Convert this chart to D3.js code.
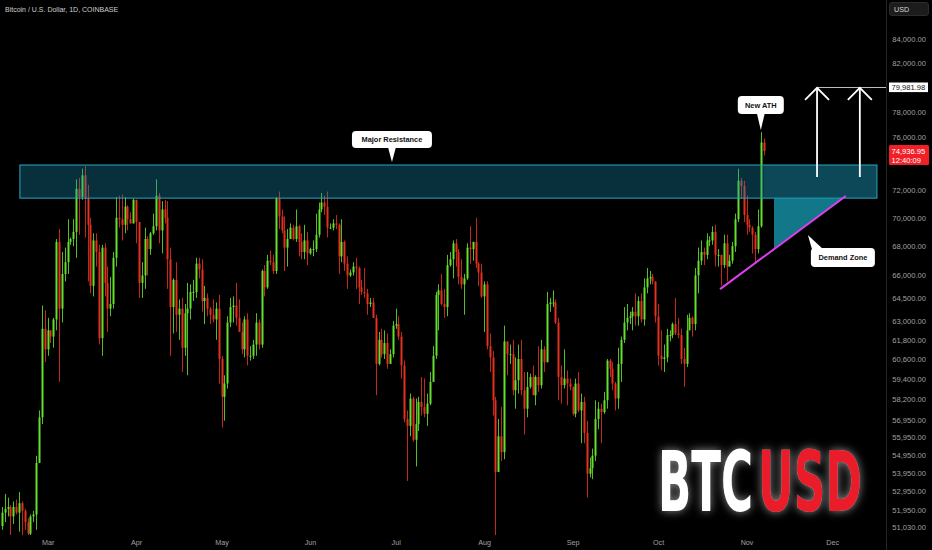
<!DOCTYPE html>
<html><head><meta charset="utf-8">
<script src="https://cdn.jsdelivr.net/npm/d3@7"></script>
<style>
html,body{margin:0;padding:0;background:#000;}
svg{display:block;}
</style></head>
<body>
<svg id="chart" width="932" height="550"></svg>
<script>
// ---------- DATA (BTC / USD daily, prices in thousands of USD) ----------
const firstDay = "2024-02-14";
const openK = [
 51.1,51.8,52.0,52.1,51.6,52.1,51.8,52.3,51.9,51.3,50.7,51.6,51.7,54.5,57.1,62.5,
 61.2,62.4,62.0,63.1,68.3,63.8,66.1,66.9,68.3,68.5,69.0,72.1,71.5,73.1,71.4,69.5,65.3,68.4,67.6,61.9,67.9,65.5,63.8,64.1,67.2,70.0,69.9,69.5,70.8,69.9,69.6,
 71.3,69.7,65.5,66.0,68.5,67.8,68.9,69.4,71.6,69.1,70.6,70.0,67.1,63.9,65.7,63.4,63.8,61.3,63.5,63.8,64.9,64.9,66.8,66.4,64.3,64.5,63.8,63.4,63.1,63.8,
 60.6,58.3,59.1,62.9,63.9,64.0,63.2,62.3,61.2,63.1,60.8,60.8,61.5,62.9,61.5,66.3,65.2,67.0,66.9,66.3,71.4,70.1,69.1,67.9,68.5,69.3,68.5,69.4,68.3,67.6,68.4,
 67.5,67.8,67.8,68.8,70.6,71.1,70.8,69.3,69.3,69.6,69.5,67.3,68.3,66.8,66.0,66.2,66.6,66.5,65.2,64.9,64.8,64.1,64.2,63.2,60.3,61.8,60.9,61.6,60.3,60.9,
 62.7,62.8,62.0,60.2,57.0,56.6,58.2,55.8,56.7,58.0,57.7,57.3,57.9,59.2,60.8,64.7,65.0,64.1,63.9,66.7,67.1,68.2,67.6,65.9,65.4,65.8,67.9,67.8,68.3,66.8,66.2,
 64.6,65.4,61.4,60.7,58.1,54.0,56.0,55.1,61.7,60.9,60.9,58.7,59.3,60.6,58.7,57.6,58.9,59.5,58.4,59.5,59.0,61.2,60.4,64.1,64.2,64.2,62.9,59.5,59.0,59.4,59.1,
 58.9,57.3,59.1,57.5,58.0,56.2,53.9,54.2,54.9,57.0,57.6,57.4,58.1,60.5,60.0,59.1,58.2,60.3,61.8,62.9,63.2,63.3,63.6,63.3,64.3,63.1,65.2,65.8,65.9,65.6,
 63.3,60.8,60.6,60.7,62.1,62.1,62.8,62.2,62.1,60.6,60.3,62.4,63.2,62.8,66.0,67.0,67.6,67.4,68.4,68.4,69.0,67.4,67.4,66.7,68.2,66.6,67.0,68.0,69.9,72.7,72.3,
 70.2,69.5,69.3,68.8,67.8,69.4,75.6
];
const highK = [
 52.1,52.8,52.6,52.2,52.4,52.5,52.9,52.4,52.0,51.5,51.7,51.9,54.9,57.5,64.0,63.7,
 63.2,62.4,63.2,68.5,69.2,67.6,67.9,69.9,68.6,69.9,72.8,72.9,73.6,73.8,72.4,70.0,68.9,68.9,68.1,68.1,68.2,66.6,65.9,67.6,71.5,71.6,71.7,71.5,70.9,70.4,71.4,
 71.3,69.7,66.9,69.3,68.7,69.0,70.3,72.8,71.8,71.2,71.3,71.2,67.9,65.8,66.9,64.4,64.5,64.1,65.5,65.4,65.7,67.2,67.2,67.1,65.3,64.8,63.9,64.4,64.2,64.7,
 60.8,59.6,63.3,64.5,64.6,65.5,64.4,62.9,63.3,63.5,61.4,61.8,63.5,63.1,66.4,66.7,67.4,67.7,67.4,71.5,71.9,70.6,70.1,69.2,69.6,69.5,70.6,69.5,68.9,69.5,69.0,
 67.9,68.4,70.3,71.1,71.8,71.6,71.9,69.6,69.9,70.2,69.6,69.9,68.4,67.3,66.4,66.9,67.2,66.6,65.7,66.5,65.1,64.5,64.5,63.4,62.3,62.5,62.4,62.2,61.2,63.0,
 63.8,63.3,62.3,60.5,57.5,58.5,58.3,58.2,58.3,59.5,59.4,58.5,59.8,61.4,64.9,65.4,66.1,65.1,67.4,67.6,68.4,68.5,67.8,67.1,66.1,68.2,69.4,68.3,70.0,66.9,66.8,
 65.6,65.6,62.2,61.1,58.3,57.0,57.7,62.7,61.7,61.5,61.8,60.7,61.5,61.8,59.8,59.8,59.7,60.2,59.6,61.4,61.8,61.4,64.9,64.5,65.0,64.4,63.2,60.2,61.2,59.9,59.4,
 58.9,59.4,59.8,58.5,58.3,56.9,54.8,55.3,58.1,58.0,57.9,58.6,60.6,60.6,60.4,59.2,61.3,62.0,63.9,64.1,63.6,63.9,64.8,64.6,64.8,65.8,66.5,66.3,66.1,65.6,
 64.1,62.4,61.5,62.5,62.4,62.9,64.5,63.2,62.5,61.3,63.4,63.5,63.3,66.5,67.9,68.4,67.9,68.9,68.7,69.4,69.5,67.8,67.4,68.8,68.8,67.4,68.3,70.3,73.6,72.9,72.7,
 71.6,69.9,69.4,69.0,70.6,76.4,75.9
];
const lowK = [
 50.9,51.3,51.6,50.6,51.2,51.7,50.8,50.6,50.9,50.5,50.6,51.3,50.9,54.5,56.7,60.4,
 60.8,61.6,61.3,62.4,59.2,62.9,65.6,66.1,68.1,68.0,67.2,68.8,71.3,68.6,65.6,64.8,64.6,66.6,61.5,60.8,64.6,62.3,63.3,63.8,66.6,69.3,68.4,68.9,69.1,69.6,69.6,
 68.2,64.5,64.5,65.1,66.0,67.4,68.8,69.1,68.2,67.5,69.6,65.1,60.8,62.2,62.3,61.8,59.8,60.8,59.6,63.1,64.3,64.5,65.8,63.6,62.8,63.3,62.8,62.9,61.8,59.1,
 56.5,56.9,58.8,62.6,62.9,62.7,62.3,60.9,60.7,60.2,60.5,60.6,60.8,61.2,61.3,64.6,65.1,66.7,66.1,66.1,69.2,68.9,66.3,66.6,68.5,68.4,68.3,67.3,67.1,67.1,66.7,
 67.4,67.3,67.6,68.6,70.4,70.2,68.6,69.2,69.1,69.2,66.1,66.9,66.3,65.1,65.9,66.0,65.1,64.1,64.7,64.5,63.4,63.9,63.2,58.4,60.2,60.7,60.6,60.0,60.3,60.7,
 62.5,61.8,59.4,56.8,53.5,56.0,55.7,54.3,56.3,57.2,57.1,56.6,57.8,59.2,60.6,62.4,64.0,63.2,63.3,66.6,65.8,66.6,65.4,65.1,63.4,65.7,66.8,67.0,66.5,65.3,64.5,
 62.3,61.2,59.8,57.2,49.1,54.0,54.6,54.7,59.6,60.3,58.4,57.6,58.5,58.4,56.1,57.1,58.8,58.4,57.8,58.6,58.8,59.8,60.4,63.6,63.9,62.8,58.1,57.9,58.8,57.8,58.7,
 57.2,57.1,57.4,55.6,55.6,52.6,53.7,53.6,54.6,56.4,55.6,57.3,57.6,59.5,58.7,57.5,57.6,59.2,61.6,62.4,62.8,62.4,62.7,62.7,62.9,62.7,64.8,65.4,65.4,62.9,
 60.2,59.9,59.8,60.4,61.7,61.9,62.1,61.9,60.3,58.9,60.1,62.4,62.0,62.4,64.8,66.7,66.7,67.1,68.0,68.1,66.6,66.6,65.3,66.5,65.6,66.6,66.8,67.6,69.7,71.4,69.7,
 68.8,69.0,67.5,66.8,67.5,69.3,74.6
];
const closeK = [
 51.8,52.0,52.1,51.6,52.1,51.8,52.3,51.9,51.3,50.7,51.6,51.7,54.5,57.1,62.5,61.2,
 62.4,62.0,63.1,68.3,63.8,66.1,66.9,68.3,68.5,69.0,72.1,71.5,73.1,71.4,69.5,65.3,68.4,67.6,61.9,67.9,65.5,63.8,64.1,67.2,70.0,69.9,69.5,70.8,69.9,69.6,71.3,
 69.7,65.5,66.0,68.5,67.8,68.9,69.4,71.6,69.1,70.6,70.0,67.1,63.9,65.7,63.4,63.8,61.3,63.5,63.8,64.9,64.9,66.8,66.4,64.3,64.5,63.8,63.4,63.1,63.8,60.6,
 58.3,59.1,62.9,63.9,64.0,63.2,62.3,61.2,63.1,60.8,60.8,61.5,62.9,61.5,66.3,65.2,67.0,66.9,66.3,71.4,70.1,69.1,67.9,68.5,69.3,68.5,69.4,68.3,67.6,68.4,67.5,
 67.8,67.8,68.8,70.6,71.1,70.8,69.3,69.3,69.6,69.5,67.3,68.3,66.8,66.0,66.2,66.6,66.5,65.2,64.9,64.8,64.1,64.2,63.2,60.3,61.8,60.9,61.6,60.3,60.9,62.7,
 62.8,62.0,60.2,57.0,56.6,58.2,55.8,56.7,58.0,57.7,57.3,57.9,59.2,60.8,64.7,65.0,64.1,63.9,66.7,67.1,68.2,67.6,65.9,65.4,65.8,67.9,67.8,68.3,66.8,66.2,64.6,
 65.4,61.4,60.7,58.1,54.0,56.0,55.1,61.7,60.9,60.9,58.7,59.3,60.6,58.7,57.6,58.9,59.5,58.4,59.5,59.0,61.2,60.4,64.1,64.2,64.2,62.9,59.5,59.0,59.4,59.1,58.9,
 57.3,59.1,57.5,58.0,56.2,53.9,54.2,54.9,57.0,57.6,57.4,58.1,60.5,60.0,59.1,58.2,60.3,61.8,62.9,63.2,63.3,63.6,63.3,64.3,63.1,65.2,65.8,65.9,65.6,63.3,
 60.8,60.6,60.7,62.1,62.1,62.8,62.2,62.1,60.6,60.3,62.4,63.2,62.8,66.0,67.0,67.6,67.4,68.4,68.4,69.0,67.4,67.4,66.7,68.2,66.6,67.0,68.0,69.9,72.7,72.3,70.2,
 69.5,69.3,68.8,67.8,69.4,75.6,74.93695
];
// visible price-scale labels (80,000 and 74,000 sit under the price tags)
const priceTicks = [84000,82000,78000,76000,72000,70000,68000,66000,64500,63000,61800,60600,59400,58200,56950,55950,54950,53950,52950,51950,51030];
const monthStarts = ["2024-03-01","2024-04-01","2024-05-01","2024-06-01","2024-07-01","2024-08-01","2024-09-01","2024-10-01","2024-11-01","2024-12-01"];
const monthLabels = ["Mar","Apr","May","Jun","Jul","Aug","Sep","Oct","Nov","Dec"];
const lastPrice = 74936.95;
const countdown = "12:40:09";
const targetPrice = 79981.98;
// annotation anchors (date, price)
const resistanceDates = ["2024-02-20T07:00Z","2024-12-16T17:00Z"];
const resistancePrices = [71420, 73880];
const brightZoneStart = "2024-11-07T00:00Z";
const demandZone = [["2024-11-10T15:00Z",71420],["2024-11-10T15:00Z",67850],["2024-12-04T20:00Z",71420]];
const trendLine = [["2024-10-22T17:00Z",65080],["2024-12-05T19:00Z",71576]];
const arrowDates = ["2024-11-25T17:00Z","2024-12-10T17:00Z"];
const arrowPrices = [72980, 79981.98];
const calloutText = ["Major Resistance","New ATH","Demand Zone"];
const calloutDates = ["2024-06-29T17:00Z","2024-11-06T00:00Z","2024-11-22T12:00Z"];
const calloutPrices = [74100, 76560, 68780];
const logoParts = ["BTC","USD"];

// ---------- CHART ----------
const svg = d3.select("#chart");
const plotW = 886, plotH = 535;
const DAY = 864e5, MAR1 = Date.UTC(2024,2,1);
const x = d3.scaleUtc().domain([new Date(MAR1 - 16.68*DAY), new Date(MAR1 + 293.88*DAY)]).range([0, plotW]);
const y = d3.scaleLog().domain([87440, 50630]).range([0, plotH]);
const FONT = "'Liberation Sans', Arial, 'DejaVu Sans', sans-serif";
const GREEN = "#62e02c", RED = "#e6301f";

svg.append("rect").attr("width",932).attr("height",550).attr("fill","#000");

const defs = svg.append("defs");
defs.append("clipPath").attr("id","plot").append("rect").attr("width",plotW).attr("height",plotH);
const glow = defs.append("filter").attr("id","glow").attr("filterUnits","userSpaceOnUse")
  .attr("x",600).attr("y",400).attr("width",300).attr("height",150);
glow.append("feGaussianBlur").attr("in","SourceAlpha").attr("stdDeviation",5).attr("result","b");
glow.append("feFlood").attr("flood-color","#ffffff").attr("flood-opacity",0.55).attr("result","f");
glow.append("feComposite").attr("in","f").attr("in2","b").attr("operator","in").attr("result","g");
const fm = glow.append("feMerge");
fm.append("feMergeNode").attr("in","g");
fm.append("feMergeNode").attr("in","SourceGraphic");

const candles = closeK.map((c,i)=>({
  date: d3.utcDay.offset(new Date(firstDay+"T00:00Z"), i),
  o: openK[i]*1000, h: highK[i]*1000, l: lowK[i]*1000, c: c*1000
}));

const plot = svg.append("g").attr("clip-path","url(#plot)");

// candles
const cg = plot.append("g");
cg.selectAll("line").data(candles).join("line")
  .attr("x1", d=>Math.round(x(d.date))+0.5).attr("x2", d=>Math.round(x(d.date))+0.5)
  .attr("y1", d=>y(d.h)).attr("y2", d=>y(d.l))
  .attr("stroke", d=>d.c>=d.o?GREEN:RED).attr("stroke-width",1).attr("opacity",0.85);
cg.selectAll("rect").data(candles).join("rect")
  .attr("x", d=>Math.round(x(d.date))-0.5).attr("width",2)
  .attr("y", d=>y(Math.max(d.o,d.c)))
  .attr("height", d=>Math.max(1, Math.abs(y(d.o)-y(d.c))))
  .attr("fill", d=>d.c>=d.o?GREEN:RED);

// resistance box (semi-transparent, over candles)
const rx0 = x(new Date(resistanceDates[0])), rx1 = x(new Date(resistanceDates[1]));
const ry0 = y(resistancePrices[1]), ry1 = y(resistancePrices[0]);
plot.append("rect").attr("x",rx0).attr("y",ry0).attr("width",rx1-rx0).attr("height",ry1-ry0)
  .attr("fill","rgba(24,140,175,0.34)");
const bx0 = x(new Date(brightZoneStart));
plot.append("rect").attr("x",bx0).attr("y",ry0).attr("width",rx1-bx0).attr("height",ry1-ry0)
  .attr("fill","rgba(30,160,195,0.22)");
plot.append("rect").attr("x",rx0).attr("y",ry0).attr("width",rx1-rx0).attr("height",ry1-ry0)
  .attr("fill","none").attr("stroke","#2aa7bf").attr("stroke-width",1);

// demand zone
plot.append("path")
  .attr("d", d3.line()(demandZone.map(p=>[x(new Date(p[0])), y(p[1])])) + "Z")
  .attr("fill","rgba(25,165,190,0.72)");

// trend line
plot.append("line")
  .attr("x1", x(new Date(trendLine[0][0]))).attr("y1", y(trendLine[0][1]))
  .attr("x2", x(new Date(trendLine[1][0]))).attr("y2", y(trendLine[1][1]))
  .attr("stroke","#dc3ff0").attr("stroke-width",2);

// target line + arrows
const ty = y(targetPrice);
plot.append("line").attr("x1", x(new Date(arrowDates[0]))).attr("x2", plotW)
  .attr("y1", Math.round(ty)+0.5).attr("y2", Math.round(ty)+0.5).attr("stroke","#bdbdbd").attr("stroke-width",1);
arrowDates.forEach(dstr=>{
  const ax = x(new Date(dstr)), yb = y(arrowPrices[0]), yt = y(arrowPrices[1]);
  plot.append("line").attr("x1",ax).attr("x2",ax).attr("y1",yb).attr("y2",yt+1)
    .attr("stroke","#fff").attr("stroke-width",1.8);
  plot.append("path").attr("d",`M${ax-12},${yt+12.5}L${ax},${yt+0.5}L${ax+12},${yt+12.5}`)
    .attr("fill","none").attr("stroke","#fff").attr("stroke-width",1.8);
});

// callouts
function callout(text, bx, by, bw, bh, ptr){
  const g = svg.append("g");
  g.append("path").attr("d", ptr).attr("fill","#fff");
  g.append("rect").attr("x",bx).attr("y",by).attr("width",bw).attr("height",bh).attr("rx",4).attr("fill","#fff");
  g.append("text").attr("x",bx+bw/2).attr("y",by+bh/2+2.6).attr("text-anchor","middle")
    .attr("font-family",FONT).attr("font-weight","bold").attr("font-size",7.4).attr("fill","#111").text(text);
}
{
  const px = x(new Date(calloutDates[0])), py = y(calloutPrices[0]);
  callout(calloutText[0], px-40, py-31, 80, 17, `M${px-4},${py-15}L${px},${py}L${px+4},${py-15}Z`);
  const ax = x(new Date(calloutDates[1])), ay = y(calloutPrices[1]);
  callout(calloutText[1], ax-23, ay-34, 46, 18, `M${ax-4},${ay-17}L${ax},${ay}L${ax+4},${ay-17}Z`);
  const dx = x(new Date(calloutDates[2])), dy = y(calloutPrices[2]);
  callout(calloutText[2], dx+3, dy+13, 64, 19, `M${dx},${dy}L${dx+4},${dy+14}L${dx+15},${dy+14}Z`);
}

// axis separator
svg.append("line").attr("x1",plotW+0.5).attr("x2",plotW+0.5).attr("y1",0).attr("y2",550).attr("stroke","#262626");

// price axis
const ya = svg.append("g").attr("transform",`translate(${plotW},0)`)
  .call(d3.axisRight(y).tickValues(priceTicks).tickFormat(d3.format(",.2f")).tickSize(0));
ya.select(".domain").remove();
ya.selectAll("text").attr("x",40).attr("dy","0.32em").attr("text-anchor","end")
  .attr("font-family",FONT).attr("font-size",7.6).attr("fill","#a0a0a0");

// time axis
const xa = svg.append("g").attr("transform",`translate(0,${plotH})`)
  .call(d3.axisBottom(x).tickValues(monthStarts.map(s=>new Date(s+"T00:00Z"))).tickFormat((d,i)=>monthLabels[i]).tickSize(0));
xa.select(".domain").remove();
xa.selectAll("text").attr("y",9.5).attr("dy",null).attr("text-anchor","middle")
  .attr("font-family",FONT).attr("font-size",7.2).attr("fill","#a0a0a0");

// USD box
svg.append("rect").attr("x",889.5).attr("y",2.5).attr("width",39).attr("height",13).attr("rx",2.5)
  .attr("fill","#1c1c1c").attr("stroke","#2c2c2c");
svg.append("text").attr("x",894).attr("y",11.6).attr("font-family",FONT).attr("font-size",7.2).attr("fill","#d8d8d8").text("USD");

// target price label
svg.append("rect").attr("x",889).attr("y",ty-4.8).attr("width",39).attr("height",9.6).attr("fill","#fff");
svg.append("text").attr("x",891.5).attr("y",ty+2.7).attr("font-family",FONT).attr("font-size",7.6).attr("fill","#111")
  .text(d3.format(",.2f")(targetPrice));

// last price label
const ly = y(lastPrice);
svg.append("rect").attr("x",889).attr("y",ly-6).attr("width",40).attr("height",20).attr("rx",1.5).attr("fill","#f01f28");
svg.append("text").attr("x",891.5).attr("y",ly+2.7).attr("font-family",FONT).attr("font-size",7.6).attr("fill","#fff")
  .text(d3.format(",.2f")(lastPrice));
svg.append("text").attr("x",891.5).attr("y",ly+12.2).attr("font-family",FONT).attr("font-size",7.6).attr("fill","#fff")
  .text(countdown);

// title
svg.append("text").attr("x",5).attr("y",12).attr("font-family",FONT).attr("font-size",7).attr("fill","#cfcfcf")
  .text("Bitcoin / U.S. Dollar, 1D, COINBASE");

// BTCUSD logo: one text, two coloured parts, stretched vertically
const LOGOFONT = "'Liberation Sans Narrow','DejaVu Sans Condensed','Arial Narrow',sans-serif";
const logoText = svg.append("g").attr("filter","url(#glow)")
  .append("g").attr("transform","translate(658,511) scale(1,1.6)")
  .append("text").attr("x",0).attr("y",0).attr("font-family",LOGOFONT).attr("font-weight","bold")
  .attr("font-size",52);
logoText.append("tspan").attr("x",0).attr("fill","#ffffff").attr("textLength",95).attr("lengthAdjust","spacingAndGlyphs").text(logoParts[0]);
logoText.append("tspan").attr("x",100).attr("fill","#ea1c2c").attr("textLength",104).attr("lengthAdjust","spacingAndGlyphs").text(logoParts[1]);
</script>
</body></html>
